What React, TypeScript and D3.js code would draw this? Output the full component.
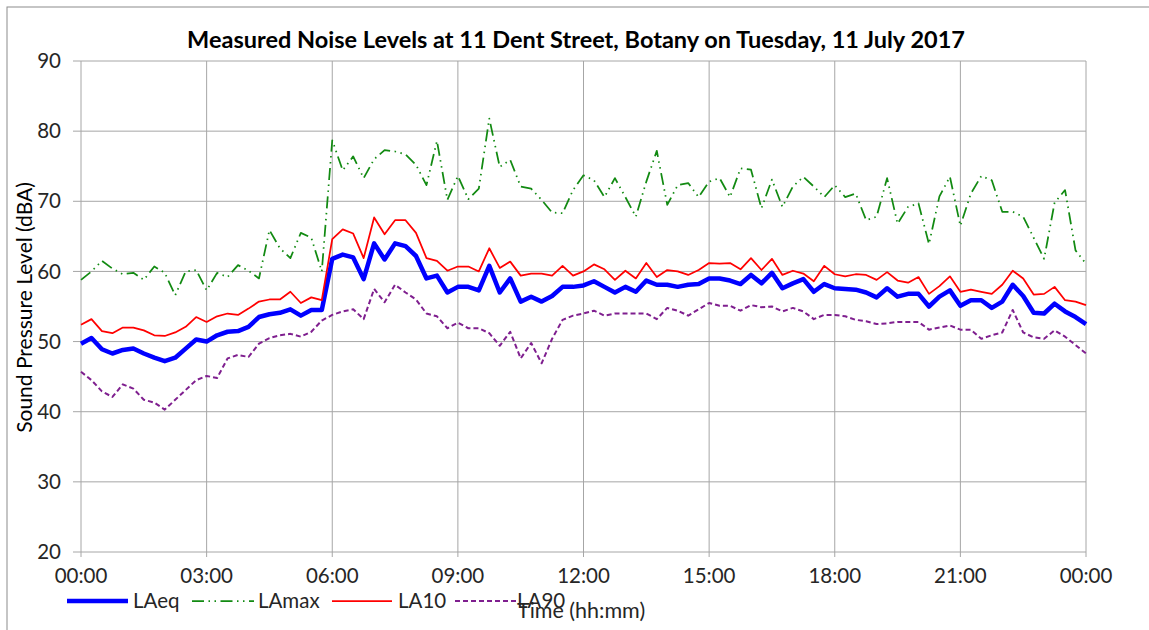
import React from "react";
import * as d3 from "d3";

const xTickLabels = ["00:00", "03:00", "06:00", "09:00", "12:00", "15:00", "18:00", "21:00", "00:00"];
const yTicks = [20, 30, 40, 50, 60, 70, 80, 90];

const LAeq = [
  49.7, 50.5, 48.9, 48.3, 48.8, 49.0, 48.3, 47.7, 47.2, 47.7, 49.0, 50.3, 50.0, 50.9, 51.4, 51.5,
  52.1, 53.5, 53.9, 54.1, 54.6, 53.7, 54.5, 54.5, 61.8, 62.4, 62.0, 58.9, 64.0, 61.7, 64.0, 63.6,
  62.2, 59.0, 59.4, 57.0, 57.8, 57.8, 57.3, 60.8, 57.0, 59.0, 55.7, 56.4, 55.7, 56.5, 57.8, 57.8,
  58.0, 58.6, 57.8, 57.0, 57.8, 57.1, 58.7, 58.1, 58.1, 57.8, 58.1, 58.2, 59.0, 59.0, 58.7, 58.2,
  59.5, 58.3, 59.8, 57.6, 58.3, 58.9, 57.1, 58.2, 57.6, 57.5, 57.4, 57.0, 56.3, 57.6, 56.4, 56.8,
  56.8, 55.0, 56.4, 57.3, 55.1, 55.9, 55.9, 54.8, 55.7, 58.1, 56.5, 54.1, 54.0, 55.4, 54.3, 53.5,
  52.5,
];

const LAmax = [
  58.8, 60.0, 61.5, 60.4, 59.6, 59.8, 58.8, 60.7, 59.8, 56.6, 60.0, 60.2, 57.3, 59.8, 59.2, 60.9,
  60.1, 59.0, 65.9, 63.3, 61.9, 65.5, 64.8, 60.0, 78.7, 74.4, 76.4, 73.3, 76.0, 77.3, 77.1, 76.7,
  75.2, 72.3, 78.6, 70.2, 73.6, 70.3, 71.8, 81.8, 74.9, 75.9, 72.1, 71.8, 70.2, 68.4, 68.3, 71.6,
  73.7, 73.0, 70.6, 73.3, 70.6, 67.8, 72.8, 77.2, 69.5, 72.3, 72.6, 70.6, 72.8, 73.3, 70.6, 74.7,
  74.5, 69.0, 73.1, 69.2, 72.1, 73.5, 72.1, 70.6, 72.3, 70.6, 71.1, 67.3, 67.8, 73.3, 66.8, 69.2,
  69.7, 63.9, 70.7, 73.5, 66.5, 71.1, 73.6, 73.0, 68.5, 68.5, 67.8, 64.8, 61.8, 69.8, 71.6, 63.0,
  61.1,
];

const LA10 = [
  52.4, 53.2, 51.5, 51.2, 52.0, 52.0, 51.6, 50.9, 50.8, 51.3, 52.1, 53.5, 52.8, 53.6, 54.0, 53.8,
  54.7, 55.7, 56.0, 56.0, 57.1, 55.5, 56.3, 55.9, 64.6, 66.0, 65.4, 61.9, 67.7, 65.3, 67.3, 67.3,
  65.5, 61.9, 61.5, 60.1, 60.7, 60.7, 60.0, 63.3, 60.5, 61.4, 59.4, 59.7, 59.7, 59.4, 60.8, 59.4,
  60.0, 61.0, 60.3, 58.8, 60.1, 59.0, 61.2, 59.2, 60.2, 60.0, 59.5, 60.2, 61.2, 61.1, 61.2, 60.3,
  61.9, 60.2, 61.8, 59.5, 60.1, 59.7, 58.6, 60.8, 59.6, 59.3, 59.6, 59.5, 58.8, 59.9, 58.7, 58.4,
  59.2, 56.8, 57.9, 59.3, 57.1, 57.4, 57.1, 56.8, 58.1, 60.1, 59.0, 56.7, 56.8, 57.8, 55.9, 55.7,
  55.2,
];

const LA90 = [
  45.7, 44.5, 42.9, 42.1, 43.9, 43.3, 41.7, 41.3, 40.3, 41.7, 43.1, 44.5, 45.1, 44.8, 47.6, 48.1,
  47.8, 49.7, 50.5, 50.9, 51.1, 50.7, 51.4, 53.0, 53.8, 54.3, 54.6, 53.2, 57.5, 55.6, 58.1, 57.0,
  56.0, 54.0, 53.6, 51.9, 52.7, 51.9, 51.9, 51.2, 49.4, 51.4, 47.6, 49.8, 46.9, 50.4, 53.1, 53.7,
  54.0, 54.4, 53.7, 54.0, 54.0, 54.0, 54.0, 53.2, 54.8, 54.4, 53.7, 54.6, 55.5, 55.1, 55.1, 54.4,
  55.2, 54.9, 55.0, 54.3, 54.8, 54.3, 53.2, 53.8, 53.8, 53.6, 53.1, 52.9, 52.5, 52.6, 52.8, 52.8,
  52.8, 51.7, 52.0, 52.3, 51.7, 51.7, 50.4, 50.9, 51.3, 54.5, 51.3, 50.6, 50.4, 51.6, 50.7, 49.5,
  48.3,
];

const W = 1149;
const H = 630;
const FONT = "Lato, 'Open Sans', sans-serif";

const series = [
  { name: "LAeq", data: LAeq, color: "#0000FF", width: 4.5, dash: "none" },
  { name: "LAmax", data: LAmax, color: "#128A12", width: 1.75, dash: "12,4.5,1.5,4.5,1.5,4.5" },
  { name: "LA10", data: LA10, color: "#FF0000", width: 1.75, dash: "none" },
  { name: "LA90", data: LA90, color: "#7F1F8F", width: 2, dash: "5,3" },
];

const legendPos = [
  { x1: 67, x2: 128, tx: 133 },
  { x1: 192, x2: 254, tx: 258 },
  { x1: 332, x2: 392, tx: 398 },
  { x1: 455, x2: 517, tx: 517 },
];

export default function App() {
  const left = 81, right = 1086, top = 61, bottom = 552;
  const x = d3.scaleLinear().domain([0, 24]).range([left, right]);
  const y = d3.scaleLinear().domain([20, 90]).range([bottom, top]);
  const line = d3
    .line<number>()
    .x((_, i) => x(i * 0.25))
    .y((d) => y(d));
  const xTickVals = xTickLabels.map((_, i) => i * 3);

  return (
    <svg
      width={W}
      height={H}
      style={{ position: "absolute", left: 0, top: 0, background: "#fff" }}
      fontFamily={FONT}
    >
      <rect x={7} y={7} width={1300} height={800} fill="#fff" stroke="#8c8c8c" strokeWidth={1} />
      <text x={576} y={48} textAnchor="middle" fontWeight="bold" fontSize={23.5} fill="#000">
        Measured Noise Levels at 11 Dent Street, Botany on Tuesday, 11 July 2017
      </text>

      {/* grid */}
      {yTicks.map((t) => (
        <line key={"gy" + t} x1={left - 8} x2={right} y1={y(t)} y2={y(t)} stroke="#a6a6a6" strokeWidth={1} />
      ))}
      {xTickVals.map((t) => (
        <line key={"gx" + t} x1={x(t)} x2={x(t)} y1={top} y2={bottom + 5} stroke="#a6a6a6" strokeWidth={1} />
      ))}

      {/* y labels */}
      {yTicks.map((t) => (
        <text key={"ty" + t} x={61} y={y(t)} dy="0.35em" textAnchor="end" fontSize={20.5} fill="#262626">
          {t}
        </text>
      ))}
      {xTickLabels.map((l, i) => (
        <text key={"tx" + i} x={x(xTickVals[i])} y={583} textAnchor="middle" fontSize={20.5} fill="#262626">
          {l}
        </text>
      ))}

      <text
        transform={`translate(32, ${(top + bottom) / 2 + 1}) rotate(-90)`}
        textAnchor="middle"
        fontSize={21}
        fill="#000"
      >
        Sound Pressure Level (dBA)
      </text>

      {/* series */}
      {series.map((s) => (
        <path
          key={s.name}
          d={line(s.data) || ""}
          fill="none"
          stroke={s.color}
          strokeWidth={s.width}
          strokeDasharray={s.dash}
          strokeLinejoin="round"
        />
      ))}

      {/* legend */}
      {series.map((s, i) => (
        <g key={"lg" + s.name}>
          <line
            x1={legendPos[i].x1}
            x2={legendPos[i].x2}
            y1={601}
            y2={601}
            stroke={s.color}
            strokeWidth={s.width}
            strokeDasharray={s.dash}
          />
          <text x={legendPos[i].tx} y={608} fontSize={20.5} fill="#262626">
            {s.name}
          </text>
        </g>
      ))}
      <text x={517} y={618} fontSize={21.5} fill="#262626">
        Time (hh:mm)
      </text>
    </svg>
  );
}
